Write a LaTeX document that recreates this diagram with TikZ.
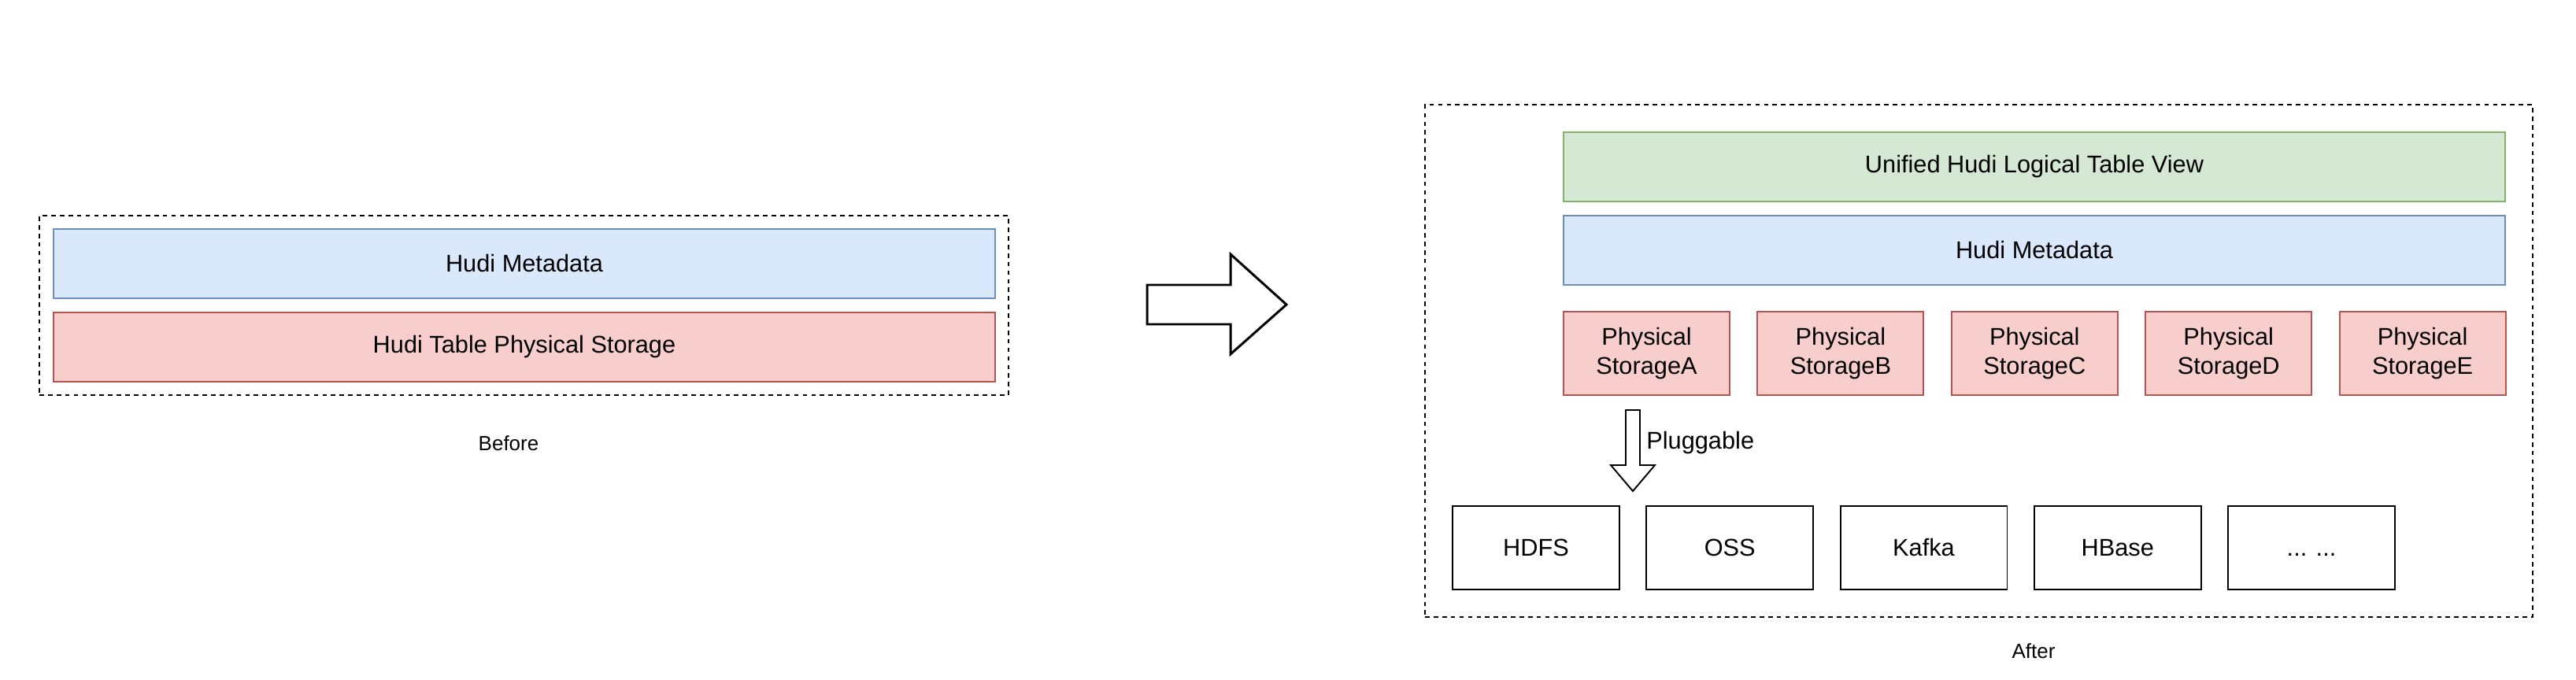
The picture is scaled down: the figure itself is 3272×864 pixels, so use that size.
\documentclass[tikz,border=0pt]{standalone}
\usepackage{fontspec}
\setmainfont{Liberation Sans}
\definecolor{greenF}{HTML}{D5E8D4}
\definecolor{greenS}{HTML}{82B366}
\definecolor{blueF}{HTML}{DAE8FC}
\definecolor{blueS}{HTML}{6C8EBF}
\definecolor{redF}{HTML}{F8CECC}
\definecolor{redS}{HTML}{B85450}
\tikzset{
  txt/.style={font=\fontsize{17.5}{21.5}\selectfont, text=black},
  caption/.style={font=\fontsize{14.8}{18}\selectfont, text=black},
  box/.style={txt, draw, line width=1.1pt, inner sep=0pt, align=center},
  wide/.style={box, minimum width=23.94cm, minimum height=1.76cm},
  bluebox/.style={wide, draw=blueS, fill=blueF},
  redwide/.style={wide, draw=redS, fill=redF},
  greenbox/.style={wide, draw=greenS, fill=greenF},
  physbox/.style={box, draw=redS, fill=redF, minimum width=4.22cm, minimum height=2.12cm},
  backend/.style={box, draw=black, fill=white, minimum width=4.24cm, minimum height=2.12cm},
  frame/.style={draw=black, line width=1.1pt, dash pattern=on 3.2pt off 3pt, inner sep=0pt},
  fatarrow/.style={draw=black, fill=white, line width=1.7pt, line join=miter},
  thinarrow/.style={draw=black, fill=white, line width=1.1pt, line join=miter},
}
\begin{document}
\begin{tikzpicture}[x=0.02cm, y=-0.02cm]
\useasboundingbox (0,0) rectangle (3272,864);

% Before
\node[frame, minimum width=24.62cm, minimum height=4.56cm] (beforeframe) at (665.5,388) {};
\node[bluebox] (meta1) at (666,335) {Hudi Metadata};
\node[redwide] (phys1) at (666,441) {Hudi Table Physical Storage};
\node[caption] (beforelbl) at (646,563) {Before};

% big arrow
\draw[fatarrow] (1457,362) -- (1563,362) -- (1563,323) -- (1634,387) -- (1563,450) -- (1563,412) -- (1457,412) -- cycle;

% After
\node[frame, minimum width=28.14cm, minimum height=13.02cm] (afterframe) at (2513.5,458.5) {};
\node[greenbox] (unified) at (2584,212) {Unified Hudi Logical Table View};
\node[bluebox] (meta2) at (2584,318) {Hudi Metadata};
\node[physbox] (pa) at (2091.5,449) {Physical\\StorageA};
\node[physbox] (pb) at (2337.9,449) {Physical\\StorageB};
\node[physbox] (pc) at (2584.3,449) {Physical\\StorageC};
\node[physbox] (pd) at (2830.7,449) {Physical\\StorageD};
\node[physbox] (pe) at (3077.1,449) {Physical\\StorageE};

\node[backend] (hdfs) at (1951,696) {HDFS};
\node[backend] (oss) at (2197.2,696) {OSS};
\node[backend] (kafka) at (2443.5,696) {Kafka};
\node[backend] (hbase) at (2689.8,696) {HBase};
\node[backend] (more) at (2936,696) {\vphantom{HBase}{.}{.}{.} {.}{.}{.}};

% pluggable arrow
\draw[thinarrow] (2065,521) -- (2083,521) -- (2083,591) -- (2102,591) -- (2074,624) -- (2046,591) -- (2065,591) -- cycle;
\node[txt, anchor=west, inner sep=0pt] (plug) at (2091,563) {Pluggable};

\node[caption] (afterlbl) at (2583,827) {After};
\end{tikzpicture}
\end{document}
